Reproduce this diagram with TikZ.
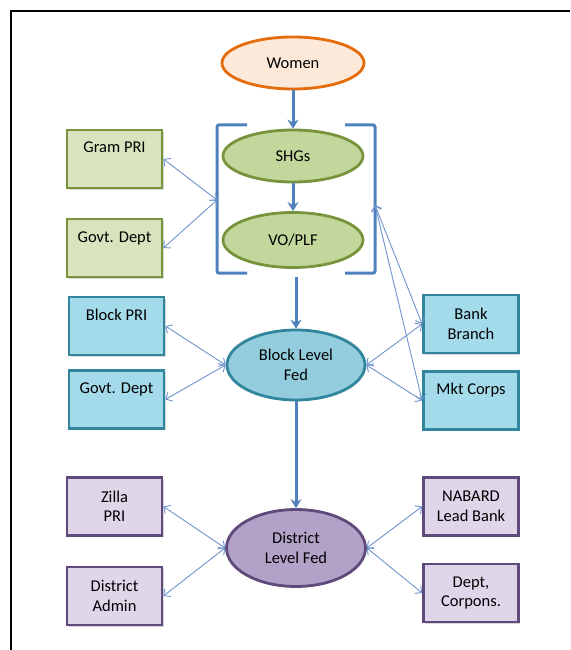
\documentclass[tikz,border=0pt]{standalone}
\usepackage{fontspec}
\setmainfont{Carlito}
\usetikzlibrary{arrows.meta,shapes.geometric,shadows}

\definecolor{flow}{HTML}{4F81BD}
\definecolor{link}{HTML}{6F93CC}
\definecolor{womenfill}{HTML}{FDE9D9}
\definecolor{womenline}{HTML}{E46C0A}
\definecolor{greenfill}{HTML}{C3D69B}
\definecolor{greenbox}{HTML}{D7E4BD}
\definecolor{greenline}{HTML}{77933C}
\definecolor{bluefill}{HTML}{93CDDD}
\definecolor{bluebox}{HTML}{A3DBEB}
\definecolor{blueline}{HTML}{31859C}
\definecolor{purplefill}{HTML}{B3A2C7}
\definecolor{purplebox}{HTML}{DFD6EA}
\definecolor{purpleline}{HTML}{604A7B}

\begin{document}
\begin{tikzpicture}[x=1pt,y=-1pt,
  every node/.style={font=\fontsize{16.5}{19.5}\selectfont,align=center},
  oval_node/.style={ellipse,line width=2.8pt,inner sep=0pt},
  box_node/.style={rectangle,line width=2.8pt,minimum width=95pt,minimum height=58pt,inner sep=0pt,
    drop shadow={shadow xshift=1.5pt,shadow yshift=-1.5pt,opacity=0.3}},
  top_text/.style={text height=18pt,text depth=30pt,inner ysep=5pt},
  green_box/.style={box_node,fill=greenbox,draw=greenline},
  blue_box/.style={box_node,fill=bluebox,draw=blueline},
  purple_box/.style={box_node,fill=purplebox,draw=purpleline},
  main_arrow/.style={draw=flow,line width=3pt,-{Stealth[length=9pt,width=11pt,inset=3pt]}},
  link_arrow/.style={draw=link,line width=0.9pt,{Straight Barb[length=5pt,width=10pt]}-{Straight Barb[length=5pt,width=10pt]}},
  bracket_line/.style={flow,line width=3pt,rounded corners=2pt}]

    \useasboundingbox (0,0) rectangle (570,650);
    \draw[line width=2pt] (11,650) -- (11,11) -- (570,11);

    % centre column
    \node[oval_node,fill=womenfill,draw=womenline,minimum width=142pt,minimum height=52pt] (women) at (293,63) {Women};
    \node[oval_node,fill=greenfill,draw=greenline,minimum width=140pt,minimum height=52pt] (shg) at (293,156) {SHGs};
    \node[oval_node,fill=greenfill,draw=greenline,minimum width=140pt,minimum height=55pt] (vo) at (293,240) {VO/PLF};
    \node[oval_node,fill=bluefill,draw=blueline,minimum width=138pt,minimum height=70pt] (block) at (296,365) {Block Level\\Fed};
    \node[oval_node,fill=purplefill,draw=purpleline,minimum width=139pt,minimum height=77pt] (dist) at (296,548) {District\\Level Fed};

    \draw[bracket_line] (247,125) -- (217,125) -- (217,273) -- (247,273);
    \draw[bracket_line] (345,125) -- (375,125) -- (375,273) -- (345,273);
    \coordinate (lbr) at (217,200);
    \coordinate (rbr) at (375,205);
    \coordinate (brk_bot) at (296,277);

    % left side
    \node[green_box,top_text] (gram) at (114.5,159) {Gram PRI};
    \node[green_box,top_text] (govt1) at (114.5,248) {Govt. Dept};
    \node[blue_box,top_text] (bpri) at (116.5,326) {Block PRI};
    \node[blue_box,top_text] (govt2) at (116.5,399.5) {Govt. Dept};
    \node[purple_box] (zilla) at (114.5,506.5) {Zilla\\PRI};
    \node[purple_box] (admin) at (114.5,596) {District\\Admin};

    % right side
    \node[blue_box] (bank) at (471,324) {Bank\\Branch};
    \node[blue_box,top_text] (mkt) at (471,400.5) {Mkt Corps};
    \node[purple_box] (nabard) at (471,506.5) {NABARD\\Lead Bank};
    \node[purple_box] (dept) at (471,593) {Dept,\\Corpons.};

    \path[-]
    (women) edge[main_arrow] (shg)
    (shg) edge[main_arrow] (vo)
    (brk_bot) edge[main_arrow] (block)
    (block) edge[main_arrow] (dist);

    \path[-]
    (gram.east) edge[link_arrow] (lbr)
    (govt1.east) edge[link_arrow] (lbr)
    (rbr) edge[link_arrow] (bank.west)
    (rbr) edge[link_arrow] (mkt.west)
    (bpri.east) edge[link_arrow] (block.west)
    (govt2.east) edge[link_arrow] (block.west)
    (block.east) edge[link_arrow] (bank.west)
    (block.east) edge[link_arrow] (mkt.west)
    (zilla.east) edge[link_arrow] (dist.west)
    (admin.east) edge[link_arrow] (dist.west)
    (nabard.west) edge[link_arrow] (dist.east)
    (dept.west) edge[link_arrow] (dist.east);
\end{tikzpicture}
\end{document}
